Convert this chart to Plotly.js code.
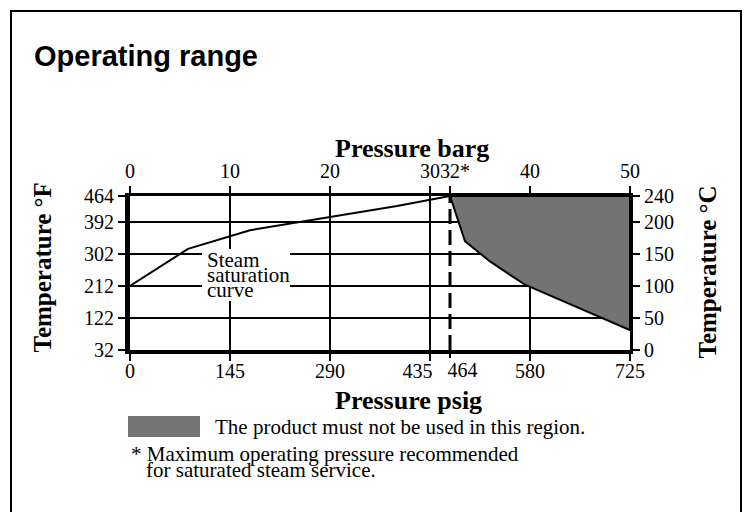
<!DOCTYPE html>
<html><head><meta charset="utf-8">
<script src="https://cdn.plot.ly/plotly-3.0.1.min.js"></script>
<style>html,body{margin:0;padding:0;background:#fff}#chart{width:746px;height:512px}</style>
</head><body><div id="chart"></div>
<script>
// ---- data ----
const gridBarg = [0, 10, 20, 30, 40, 50];
const bargTicks = [0, 10, 20, 30, 32, 40, 50];
const bargLabels = ['0', '10', '20', '30', '32*', '40', '50'];
const psigLabels = ['0', '145', '290', '435', '464', '580', '725'];
const tempC = [0, 50, 100, 150, 200, 240];
const tempF = [32, 122, 212, 302, 392, 464];
const tempCRange = [0, 240];
const bargRange = [0, 50];
const maxPressureBarg = 32;
const satBarg = [0, 5.8, 12, 26.7, 32];
const satTempC = [100, 157.6, 186.7, 224.3, 240];
const regionBarg = [32, 33.5, 36, 39.5, 50, 50, 32];
const regionTempC = [240, 169.5, 138, 101.7, 31, 240, 240];

// ---- helpers (layout only) ----
const NB = '\u00a0';
const pad = (n) => NB.repeat(n);
const serif = 'Liberation Serif, Times New Roman, serif';
const tf = {family: serif, size: 20, color: '#000'};
// plot area in pixels: x 130..630, y 196..350
const L = 130, R = 630, T = 196, B = 350;
const px = (x) => (x - L) / (R - L);
const py = (y) => (B - y) / (B - T);

const bottomIdx = bargTicks.map((v, i) => i).filter(i => bargTicks[i] !== maxPressureBarg);
const maxIdx = bargTicks.indexOf(maxPressureBarg);
const bottomText = bottomIdx.map(i => psigLabels[i] + (bargTicks[i] === 30 ? pad(5) : ''));
const topText = bargLabels.map((s, i) => (bargTicks[i] === maxPressureBarg ? pad(2) : '') + s);

const traces = [
  {x: regionBarg, y: regionTempC, xaxis: 'x', yaxis: 'y', mode: 'lines', fill: 'toself',
   fillcolor: '#737373', line: {color: '#000', width: 2}, hoverinfo: 'skip', showlegend: false},
  {x: satBarg, y: satTempC, xaxis: 'x', yaxis: 'y', mode: 'lines',
   line: {color: '#000', width: 2}, hoverinfo: 'skip', showlegend: false},
  {x: [maxPressureBarg, maxPressureBarg], y: tempCRange, xaxis: 'x2', yaxis: 'y2', mode: 'lines',
   line: {color: '#000', width: 3, dash: '15px,6px'}, hoverinfo: 'skip', showlegend: false},
  {x: [maxPressureBarg], y: [tempCRange[0]], xaxis: 'x3', yaxis: 'y', mode: 'markers',
   marker: {opacity: 0}, hoverinfo: 'skip', showlegend: false}
];

const axBase = {ticks: 'outside', ticklen: 7, tickwidth: 2, tickcolor: '#000', tickangle: 0,
  tickfont: tf, zeroline: false, fixedrange: true, tickmode: 'array'};

const layout = {
  width: 746, height: 512,
  margin: {l: L, r: 746 - R, t: T, b: 512 - B, pad: 0},
  paper_bgcolor: '#fff', plot_bgcolor: '#fff',
  showlegend: false,
  title: {text: 'Operating range', x: 34 / 746, xanchor: 'left', xref: 'container',
    y: 1 - 55.5 / 512, yanchor: 'middle', yref: 'container',
    font: {family: 'Liberation Sans, Arial, sans-serif', size: 29, weight: 700, color: '#000'}},
  xaxis: Object.assign({}, axBase, {range: bargRange, tickvals: bottomIdx.map(i => bargTicks[i]),
    ticktext: bottomText, showline: true, linewidth: 4, linecolor: '#000', ticklabelstandoff: -7,
    showgrid: true, gridcolor: '#000', gridwidth: 2}),
  xaxis2: Object.assign({}, axBase, {range: bargRange, overlaying: 'x', side: 'top', anchor: 'y',
    tickvals: bargTicks, ticktext: topText, showline: true, linewidth: 3, linecolor: '#000', showgrid: false}),
  xaxis3: Object.assign({}, axBase, {range: bargRange, overlaying: 'x', side: 'bottom', anchor: 'y',
    tickvals: [maxPressureBarg], ticktext: [pad(5) + psigLabels[maxIdx]], ticklabelstandoff: -5,
    showline: false, showgrid: false}),
  yaxis: Object.assign({}, axBase, {range: tempCRange, tickvals: tempC, ticktext: tempF.map(String),
    showline: true, linewidth: 5, linecolor: '#000', showgrid: true, gridcolor: '#000', gridwidth: 2}),
  yaxis2: Object.assign({}, axBase, {range: tempCRange, overlaying: 'y', side: 'right', anchor: 'x',
    tickvals: tempC, ticktext: tempC.map(String), showline: true, linewidth: 3, linecolor: '#000', showgrid: false}),
  shapes: [
    {type: 'rect', xref: 'paper', yref: 'paper', x0: px(11), x1: px(741), y0: py(530), y1: py(11),
     line: {color: '#000', width: 2}, fillcolor: 'rgba(0,0,0,0)', layer: 'below'},
    {type: 'rect', xref: 'paper', yref: 'paper', x0: px(202), x1: px(290), y0: py(301), y1: py(249),
     line: {width: 0}, fillcolor: '#fff', layer: 'above'},
    {type: 'rect', xref: 'paper', yref: 'paper', x0: px(128), x1: px(200), y0: py(437), y1: py(416),
     line: {width: 0}, fillcolor: '#747474', layer: 'above'}
  ],
  annotations: [
    {text: 'Pressure barg', x: px(412), y: py(148), xref: 'paper', yref: 'paper', showarrow: false,
     xanchor: 'center', yanchor: 'middle', font: {family: serif, size: 26, weight: 700, color: '#000'}},
    {text: 'Pressure psig', x: px(408), y: py(400), xref: 'paper', yref: 'paper', showarrow: false,
     xanchor: 'center', yanchor: 'middle', font: {family: serif, size: 26, weight: 700, color: '#000'}},
    {text: 'Temperature °F', x: px(42), y: py(267.5), xref: 'paper', yref: 'paper', showarrow: false,
     textangle: -90, xanchor: 'center', yanchor: 'middle', font: {family: serif, size: 25, weight: 700, color: '#000'}},
    {text: 'Temperature °C', x: px(707), y: py(272.5), xref: 'paper', yref: 'paper', showarrow: false,
     textangle: -90, xanchor: 'center', yanchor: 'middle', font: {family: serif, size: 25, weight: 700, color: '#000'}},
    {text: 'Steam', x: px(205), y: py(259.6), xref: 'paper', yref: 'paper', showarrow: false,
     xanchor: 'left', yanchor: 'middle', font: {family: serif, size: 21, color: '#000'}},
    {text: 'saturation', x: px(205), y: py(275.4), xref: 'paper', yref: 'paper', showarrow: false,
     xanchor: 'left', yanchor: 'middle', font: {family: serif, size: 21, color: '#000'}},
    {text: 'curve', x: px(205), y: py(290.4), xref: 'paper', yref: 'paper', showarrow: false,
     xanchor: 'left', yanchor: 'middle', font: {family: serif, size: 21, color: '#000'}},
    {text: 'The product must not be used in this region.', x: px(213), y: py(427.3), xref: 'paper', yref: 'paper',
     showarrow: false, xanchor: 'left', yanchor: 'middle', font: {family: serif, size: 21, color: '#000'}},
    {text: '* Maximum operating pressure recommended', x: px(129), y: py(454), xref: 'paper', yref: 'paper',
     showarrow: false, xanchor: 'left', yanchor: 'middle', font: {family: serif, size: 21, color: '#000'}},
    {text: 'for saturated steam service.', x: px(144), y: py(470), xref: 'paper', yref: 'paper',
     showarrow: false, xanchor: 'left', yanchor: 'middle', font: {family: serif, size: 21, color: '#000'}}
  ]
};

Plotly.newPlot('chart', traces, layout, {displayModeBar: false, staticPlot: true});
</script>
</body></html>
